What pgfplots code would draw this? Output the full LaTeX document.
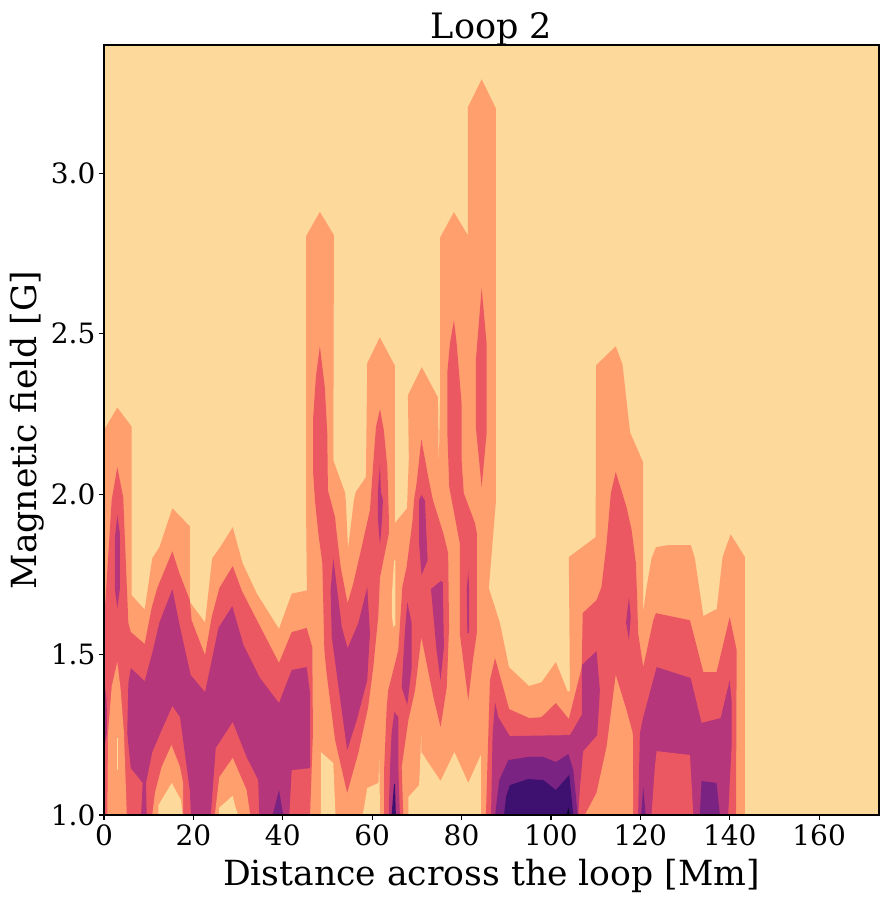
\documentclass[border=0pt]{standalone}
\usepackage{pgfplots}
\pgfplotsset{compat=1.18}
\usepackage{fontspec}
\setmainfont{DejaVu Serif}
\definecolor{lv0}{RGB}{253,217,155}
\definecolor{lv1}{RGB}{254,159,109}
\definecolor{lv2}{RGB}{236,88,98}
\definecolor{lv3}{RGB}{181,54,122}
\definecolor{lv4}{RGB}{123,35,130}
\definecolor{lv5}{RGB}{62,16,112}
\definecolor{lv6}{RGB}{12,8,40}
\pgfplotsset{
 L0/.style={fill=lv0,draw=none,forget plot},
 L1/.style={fill=lv1,draw=none,forget plot},
 L2/.style={fill=lv2,draw=none,forget plot},
 L3/.style={fill=lv3,draw=none,forget plot},
 L4/.style={fill=lv4,draw=none,forget plot},
 L5/.style={fill=lv5,draw=none,forget plot},
 L6/.style={fill=lv6,draw=none,forget plot},
}
\begin{document}
\begin{tikzpicture}[x=1pt,y=1pt]
\useasboundingbox (-104pt,-86pt) rectangle (784pt,815pt);
\begin{axis}[
 at={(0pt,0pt)},anchor=south west,
 scale only axis,width=775pt,height=770pt,
 xmin=0,xmax=173.4,ymin=1,ymax=3.4,
 axis on top,
 axis line style={line width=1.1pt},
 tick style={line width=1.1pt,black},
 tick align=outside,major tick length=5pt,
 xtick pos=bottom,ytick pos=left,
 xtick={0,20,40,60,80,100,120,140,160},
 ytick={1,1.5,2,2.5,3},
 yticklabels={1.0,1.5,2.0,2.5,3.0},
 /pgf/number format/assume math mode=true,
 tick label style={font=\fontsize{28}{30}\selectfont},
 xticklabel style={yshift=-1pt},
 title={Loop 2},
 title style={font=\fontsize{35}{40}\selectfont,yshift=-10pt},
 xlabel={Distance across the loop [Mm]},
 ylabel={Magnetic field [G]},
 label style={font=\fontsize{34.6}{40}\selectfont},
 xlabel style={yshift=-7pt},
]
% background level
\addplot[L0] coordinates {(0,1)(173.4,1)(173.4,3.4)(0,3.4)} --cycle;
% level 1
\addplot[L1] coordinates {(0,2.20)(2.98,2.27)(6.2,2.21)(6.2,1.685)(9.1,1.64)(10.8,1.80)(12.4,1.835)(15.3,1.956)(19.2,1.90)(19.2,1.664)(22.6,1.60)(24.2,1.80)(26.0,1.835)(28.8,1.897)(31.0,1.785)(34.2,1.69)(39.15,1.58)(42.0,1.69)(45.4,1.70)(45.2,1.96)(45.2,2.804)(48.3,2.88)(51.45,2.807)(51.3,2.106)(53.9,2.006)(54.1,1.98)(54.6,1.83)(55.9,1.98)(56.3,2.006)(58.6,2.053)(58.9,2.408)(61.7,2.489)(65.1,2.40)(65.1,1.91)(67.8,1.956)(68.2,2.112)(68.0,2.308)(71.1,2.396)(74.7,2.302)(74.9,2.075)(75.2,2.302)(75.2,2.80)(78.3,2.879)(81.4,2.807)(81.4,3.206)(84.5,3.293)(87.7,3.202)(87.7,1.981)(86.1,1.707)(88.6,1.598)(90.6,1.461)(95.1,1.402)(97.9,1.414)(101.1,1.477)(103.8,1.383)(104.25,1.389)(104.0,1.804)(110.0,1.866)(110.1,2.402)(114.5,2.461)(116.0,2.405)(117.7,2.193)(120.6,2.10)(120.6,1.629)(121.4,1.71)(122.5,1.80)(123.5,1.835)(126.2,1.841)(131.3,1.841)(132.2,1.80)(134.1,1.62)(137.1,1.642)(138.4,1.804)(140.2,1.875)(143.4,1.804)(143.4,1.0)(0,1.0)} --cycle;
% level 2
\addplot[L2] coordinates {(0,1.598)(1.72,1.981)(2.98,2.084)(4.3,1.99)(5.45,1.598)(6,1.57)(9.1,1.533)(10.65,1.645)(11.9,1.707)(15.3,1.822)(16.85,1.754)(19.2,1.67)(19.6,1.607)(22.6,1.498)(24.1,1.617)(25.8,1.707)(28.8,1.776)(30.8,1.70)(33.4,1.629)(39.15,1.474)(42,1.57)(45.35,1.583)(46.6,1.523)(46.75,1.255)(46.1,1)(0,1)} --cycle;
\addplot[L2] coordinates {(48.3,2.461)(49.4,2.333)(49.95,2.19)(50.1,2.012)(51.7,1.928)(52.05,1.879)(52.95,1.773)(54.5,1.66)(55.8,1.723)(57.65,1.835)(59.5,1.95)(60.25,2.097)(60.85,2.209)(61.75,2.265)(62.6,2.20)(63.4,2.084)(63.75,1.919)(63.75,1.879)(61.75,1.741)(61.35,1.617)(60.25,1.461)(59.1,1.336)(56.9,1.193)(54.4,1.069)(51.7,1.234)(49.8,1.442)(49.3,1.514)(48.85,1.785)(47.95,1.879)(47.2,1.981)(46.8,2.065)(46.8,2.237)(47.4,2.364)} --cycle;
\addplot[L2] coordinates {(71,2.171)(72.55,2.053)(73.6,1.981)(75.9,1.879)(77,1.816)(77.2,1.586)(76.7,1.399)(75.3,1.274)(73.7,1.368)(71,1.555)(69.6,1.389)(68.1,1.296)(66.6,1.15)(66.95,1)(62.7,1)(62.7,1.15)(63.25,1.336)(63.6,1.389)(65.85,1.514)(66.75,1.71)(67.7,1.773)(69.05,1.919)(69.35,1.981)(69.95,2.034)} --cycle;
\addplot[L2] coordinates {(78.3,2.542)(78.9,2.47)(80,2.283)(80,2.106)(80.5,2.003)(83,1.91)(83.4,1.879)(83.4,1.567)(82.55,1.483)(81.5,1.358)(79.6,1.567)(79.6,1.847)(77.8,1.981)(77.25,2.022)(76.8,2.199)(76.8,2.377)(77.4,2.47)} --cycle;
\addplot[L2] coordinates {(84.5,2.642)(85.6,2.47)(85.6,2.19)(84.5,2.022)(83.2,2.209)(83.2,2.417)} --cycle;
\addplot[L2] coordinates {(85.45,1)(86.35,1.42)(87.5,1.489)(90.65,1.33)(95.15,1.302)(97.9,1.305)(101.1,1.349)(104,1.299)(106.9,1.461)(107.1,1.629)(110.2,1.67)(111.3,1.71)(112.45,1.847)(113.4,2.003)(114.5,2.069)(116.9,1.96)(118.05,1.888)(119,1.785)(119.3,1.67)(119.5,1.567)(120.65,1.461)(122.9,1.607)(123.5,1.629)(131.1,1.607)(134.1,1.445)(137.05,1.445)(140,1.617)(141.55,1.514)(141.4,1)} --cycle;
% level 1 inside level 2
\addplot[L1] coordinates {(2.98,1.477)(1.72,1.40)(0.9,1.255)(0.74,1)(5.1,1)(4.47,1.255)(3.74,1.389)} --cycle;
\addplot[L1] coordinates {(15.1,1.218)(12.9,1.15)(11.4,1.069)(10.8,1)(17.7,1)(17.7,1.10)(17,1.15)} --cycle;
\addplot[L1] coordinates {(28.8,1.178)(25.8,1.118)(24.8,1)(32.7,1)(31.9,1.078)} --cycle;
\addplot[L1] coordinates {(114.5,1.436)(112.45,1.212)(110.2,1.069)(107.6,1)(118.4,1)(118.3,1.255)(116.9,1.327)} --cycle;
% level 0 inside level 1
\addplot[L0] coordinates {(2.85,1.24)(3.15,1.24)(3.15,1.14)(2.85,1.14)} --cycle;
\addplot[L0] coordinates {(15.15,1.10)(12.15,1.03)(12.15,1)(17.6,1)(17.2,1.047)} --cycle;
\addplot[L0] coordinates {(28.8,1.06)(25.7,1.022)(25.7,1)(30,1)(29.3,1.03)} --cycle;
\addplot[L0] coordinates {(48.55,1.196)(51.3,1.162)(51.8,1)(48.55,1)} --cycle;
\addplot[L0] coordinates {(61.6,1.178)(61.4,1.10)(58.9,1.084)(57.9,1)(61.75,1)} --cycle;
\addplot[L0] coordinates {(71,1.249)(71,1.196)(75.3,1.106)(78.4,1.196)(81.5,1.10)(84.3,1.187)(84.3,1)(68.1,1)(68.1,1.056)(70.5,1.093)} --cycle;
\addplot[L0] coordinates {(64.9,1.794)(65.2,1.794)(65.2,1.592)(64.7,1.586)(64.4,1.623)(64.4,1.685)} --cycle;
% level 3
\addplot[L3] coordinates {(6,1.458)(9.1,1.417)(10.8,1.505)(12.4,1.60)(15.3,1.704)(17,1.586)(19.4,1.436)(22.6,1.383)(24.45,1.505)(25.6,1.583)(28.7,1.651)(31.2,1.53)(34.9,1.427)(39.15,1.349)(42,1.452)(45.35,1.461)(46.1,1.38)(46.1,1.146)(42,1.14)(41.45,1)(34.75,1)(34.5,1.109)(31.9,1.181)(28.8,1.29)(25,1.209)(23.9,1)(19.45,1)(19.2,1.078)(17,1.305)(15.3,1.34)(12.9,1.265)(10.8,1.196)(9.4,1.10)(9.55,1)(8.3,1)(8.65,1.10)(6,1.146)(5.2,1.255)(5.45,1.411)} --cycle;
\addplot[L3] coordinates {(0,1.421)(0.6,1.358)(0.67,1.255)(0,1.202)} --cycle;
\addplot[L3] coordinates {(2.98,1.935)(3.58,1.875)(3.58,1.707)(2.98,1.645)(2.46,1.70)(2.46,1.866)} --cycle;
\addplot[L3] coordinates {(51.3,1.80)(50.7,1.70)(50.95,1.555)(52.05,1.442)(54.4,1.202)(56.55,1.296)(58.9,1.42)(59.5,1.567)(58.9,1.71)(56.9,1.598)(54.5,1.52)(53.2,1.586)} --cycle;
\addplot[L3] coordinates {(61.75,2.093)(61.95,2.006)(62.4,1.981)(62.2,1.919)(61.75,1.841)(61.3,1.919)(61.3,2.012)} --cycle;
\addplot[L3] coordinates {(71,1.997)(71.8,1.981)(72.4,1.794)(71.05,1.748)(70.5,1.847)(70.5,1.981)} --cycle;
\addplot[L3] coordinates {(75.3,1.729)(73.15,1.704)(74.4,1.514)(75.3,1.42)(76.05,1.523)(75.8,1.726)} --cycle;
\addplot[L3] coordinates {(67.85,1.664)(67.3,1.567)(66.6,1.399)(67.85,1.343)(68.85,1.461)(68.85,1.598)} --cycle;
\addplot[L3] coordinates {(81.5,1.763)(81.15,1.70)(81.3,1.567)(81.7,1.567)(81.7,1.70)} --cycle;
\addplot[L3] coordinates {(64.95,1.321)(64.35,1.255)(64,1.15)(63.7,1)(66.2,1)(65.85,1.15)(65.85,1.305)} --cycle;
\addplot[L3] coordinates {(87.5,1.352)(88.2,1.305)(90.8,1.246)(104.25,1.249)(106.9,1.312)(106.9,1.467)(110.2,1.511)(110.95,1.389)(110.35,1.249)(107.2,1.199)(106.5,1.087)(106.1,1)(86.6,1)(86.95,1.255)} --cycle;
\addplot[L3] coordinates {(123.65,1.461)(131.25,1.427)(133.7,1.287)(137.95,1.302)(140,1.42)(140.4,1.358)(140.4,1.212)(139.65,1)(119.5,1)(119.9,1.255)(120.65,1.305)} --cycle;
\addplot[L3] coordinates {(117.45,1.679)(116.8,1.60)(117.45,1.545)(117.85,1.617)} --cycle;
% level 2 inside level 3
\addplot[L2] coordinates {(123.65,1.199)(131.1,1.187)(131.85,1)(122.5,1)(123.25,1.15)} --cycle;
% level 4
\addplot[L4] coordinates {(39.15,1.078)(37.75,1)(40.1,1)} --cycle;
\addplot[L4] coordinates {(90.45,1.171)(94.9,1.181)(98.3,1.181)(101.1,1.165)(103.9,1.19)(105,1.14)(106,1)(87.5,1)(88.45,1.109)} --cycle;
\addplot[L4] coordinates {(133.7,1.106)(137.05,1.10)(137.8,1)(133.3,1)} --cycle;
\addplot[L4] coordinates {(120.65,1.087)(120.15,1)(121.2,1)} --cycle;
% level 5
\addplot[L5] coordinates {(64.9,1.097)(64.35,1)(65.3,1)(65.1,1.097)} --cycle;
\addplot[L5] coordinates {(90.8,1.093)(94.9,1.112)(98.3,1.109)(101.1,1.078)(104.1,1.125)(105,1)(89.5,1)(89.95,1.056)} --cycle;
% level 6
\addplot[L6] coordinates {(103.5,1)(103.9,1.022)(104.25,1)} --cycle;
\end{axis}
\end{tikzpicture}
\end{document}
